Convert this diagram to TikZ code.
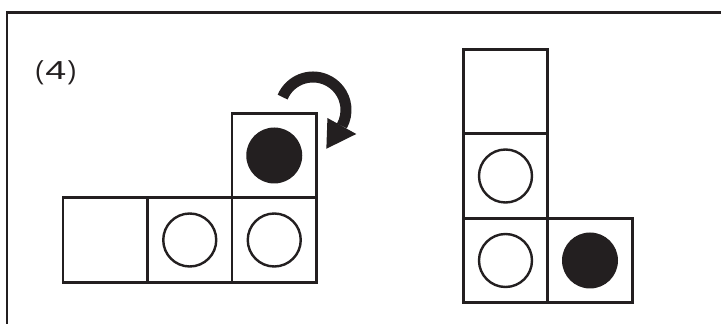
\documentclass[tikz,border=0pt]{standalone}
\usepackage{fontspec}
\setsansfont{Liberation Sans}
\usetikzlibrary{positioning}
\definecolor{kink}{HTML}{231F20}

\begin{document}
\begin{tikzpicture}[x=1pt, y=1pt,
  cell/.style={draw=kink, line width=2.8pt, minimum size=84.5pt, inner sep=0pt, outer sep=0pt},
  hole/.style={circle, draw=kink, line width=2.4pt, minimum size=53pt, inner sep=0pt},
  dot/.style={circle, fill=kink, minimum size=56pt, inner sep=0pt}]
\useasboundingbox (0,0) rectangle (721,324);
\draw[kink, line width=2.6pt] (7,0) -- (7,311.7) -- (721,311.7);
\node[font=\sffamily\fontsize{26}{26}\selectfont, text=kink, anchor=base west, inner sep=0pt]
  (lbl) at (35,244) {(\kern1.5pt\scalebox{1.45}[1]{4}\kern1.5pt)};
% left net
\node[cell] (l1) at (105.25,84) {};
\node[cell, right=0pt of l1] (l2) {};
\node[cell, right=0pt of l2] (l3) {};
\node[cell, above=0pt of l3] (l4) {};
\node[hole] (l2c) at (l2) {};
\node[hole] (l3c) at (l3) {};
\node[dot] (l4c) at (l4) {};
% turning arrow
\coordinate (turn) at (313,214);
\draw[kink, line width=11pt] ([shift={(turn)}]157:33) arc[start angle=157, end angle=-29, radius=33];
\fill[kink] ([shift={(turn)}]-29:49.5) -- ([shift={(turn)}]-71:41) -- ([shift={(turn)}]-29:16.5) -- cycle;
% right net
\node[cell] (r1) at (505.5,63.5) {};
\node[cell, above=0pt of r1] (r2) {};
\node[cell, above=0pt of r2] (r3) {};
\node[cell, right=0pt of r1] (r4) {};
\node[hole] (r1c) at (r1) {};
\node[hole] (r2c) at (r2) {};
\node[dot] (r4c) at (r4) {};
\end{tikzpicture}
\end{document}
